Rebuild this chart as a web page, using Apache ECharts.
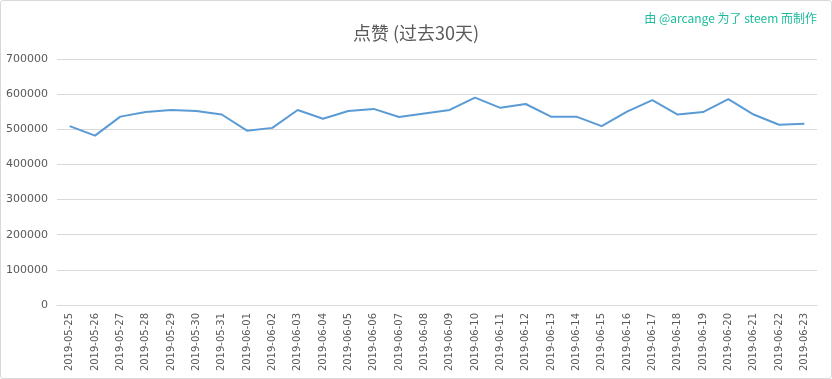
<!DOCTYPE html>
<html><head><meta charset="utf-8">
<script src="https://cdn.jsdelivr.net/npm/echarts@6/dist/echarts.min.js"></script>
<style>html,body{margin:0;padding:0;background:#fff}#c{position:absolute;left:0;top:0;width:830px;height:377px;border:1px solid #d9d9d9;border-radius:3px}</style>
</head><body><div id="c"></div>
<script>
const categories = ['2019-05-25','2019-05-26','2019-05-27','2019-05-28','2019-05-29','2019-05-30','2019-05-31','2019-06-01','2019-06-02','2019-06-03','2019-06-04','2019-06-05','2019-06-06','2019-06-07','2019-06-08','2019-06-09','2019-06-10','2019-06-11','2019-06-12','2019-06-13','2019-06-14','2019-06-15','2019-06-16','2019-06-17','2019-06-18','2019-06-19','2019-06-20','2019-06-21','2019-06-22','2019-06-23'];
const votes = [509000,482000,536000,549000,555000,552000,542000,496000,504000,555000,530000,552000,558000,535000,545000,555000,590000,561000,572000,536000,536000,509000,550000,583000,542000,549000,586000,542000,513000,516000];
const titleText = '点赞 (过去30天)';
const creditText = '由 @arcange 为了 steem 而制作';
const chart = echarts.init(document.getElementById('c'));
chart.setOption({
  animation:false,
  title:[{text:titleText,left:'center',top:18,textStyle:{fontSize:18,fontWeight:'normal',color:'#595959',fontFamily:'"Noto Sans CJK SC", sans-serif'}},
         {text:creditText,right:9,top:6,textStyle:{fontSize:12,fontWeight:'normal',color:'#1abc9c',fontFamily:'"Noto Sans CJK SC", sans-serif'}}],
  grid:{left:56,right:14,top:58,bottom:73,containLabel:false},
  xAxis:{type:'category',data:categories,boundaryGap:true,
    axisLine:{lineStyle:{color:'#d9d9d9'}},axisTick:{show:false},
    axisLabel:{rotate:90,interval:0,fontSize:10,color:'#595959',margin:8,fontFamily:'"DejaVu Sans", sans-serif'}},
  yAxis:{type:'value',min:0,max:700000,interval:100000,
    axisLine:{show:false},axisTick:{show:false},
    splitLine:{lineStyle:{color:'#d9d9d9'}},
    axisLabel:{fontSize:11,color:'#595959',margin:9,formatter:v=>String(v),fontFamily:'"DejaVu Sans", sans-serif'}},
  series:[{type:'line',data:votes,symbol:'none',lineStyle:{color:'#5b9bd5',width:2}}]
});
</script></body></html>
